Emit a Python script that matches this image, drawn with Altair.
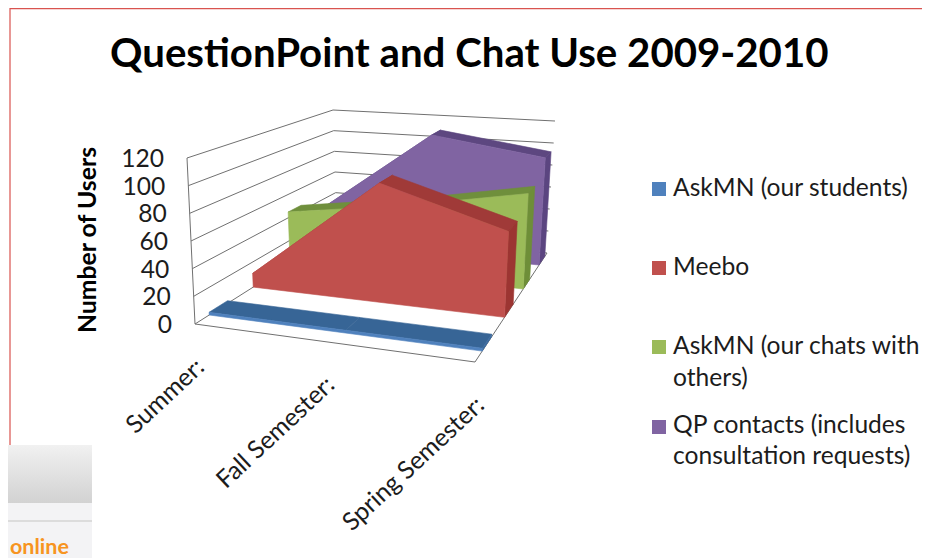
import altair as alt
import pandas as pd

# ---- data ----
categories = ["Summer:", "Fall Semester:", "Spring Semester:"]
series_names = ["AskMN (our students)", "Meebo", "AskMN (our chats with others)", "QP contacts (includes consultation requests)"]
askmn_students = [2, 2, 2]
meebo = [11, 93, 65]
askmn_chats = [45, 60, 78]
qp_contacts = [32, 108, 94]
y_ticks = [0, 20, 40, 60, 80, 100, 120]
legend_lines = [["AskMN (our students)"], ["Meebo"], ["AskMN (our chats with", "others)"], ["QP contacts (includes", "consultation requests)"]]

# ---- style / layout ----
FRONT = ["#4F81BD", "#C0504D", "#9BBB59", "#8064A2"]
TOP = ["#376596", "#A03A38", "#6F8F3C", "#5D4780"]
SIDE = ["#3A6A9F", "#9C3532", "#6E8E38", "#5B4580"]
BANDS = [(0.10, 0.23), (0.41, 0.53), (0.67, 0.76), (0.89, 0.97)]
FONT = "Lato"
GRID = "#707070"
W, H = 914, 550

# 3-D frame of the plot: (u=category, w=depth, v=value share) corners on the page
C = {
    (0, 0, 0): (195, 324), (0, 0, 1): (187, 158),
    (0, 1, 0): (337, 234), (0, 1, 1): (333, 110),
    (1, 0, 0): (475, 362), (1, 0, 1): (482, 185),
    (1, 1, 0): (547, 253), (1, 1, 1): (555, 121),
}


def project(u, w, value):
    v = value / 120
    px = py = 0.0
    for (a, b, c), (x, y) in C.items():
        f = (u if a else 1 - u) * (w if b else 1 - w) * (v if c else 1 - v)
        px += f * x
        py += f * y
    return px, py


x_enc = alt.X("x:Q", scale=alt.Scale(domain=[8, 8 + W]), axis=None)
y_enc = alt.Y("y:Q", scale=alt.Scale(domain=[8 + H, 8]), axis=None)


def poly(points, fill):
    df = pd.DataFrame([{"x": p[0], "y": p[1], "i": i} for i, p in enumerate(points)])
    return alt.Chart(df).mark_line(fill=fill, stroke=fill, strokeWidth=0.6, interpolate="linear-closed", clip=False).encode(
        x=x_enc, y=y_enc, order="i:Q")


def path(points, color=GRID, width=1):
    df = pd.DataFrame([{"x": p[0], "y": p[1], "i": i} for i, p in enumerate(points)])
    return alt.Chart(df).mark_line(stroke=color, strokeWidth=width).encode(x=x_enc, y=y_enc, order="i:Q")


def text(px, py, s, size, color="#1c1c1c", bold=False, align="left", angle=0):
    df = pd.DataFrame([{"x": px, "y": py, "t": s}])
    return alt.Chart(df).mark_text(font=FONT, fontSize=size, color=color, fontWeight="bold" if bold else "normal",
                                   align=align, baseline="middle", angle=angle).encode(x=x_enc, y=y_enc, text="t:N")


def rect(x0, y0, x1, y1, fill):
    return alt.Chart(pd.DataFrame([{"a": 0}])).mark_rect(fill=fill).encode(
        x=alt.value(x0 - 8), x2=alt.value(x1 - 8), y=alt.value(y0 - 8), y2=alt.value(y1 - 8))


layers = []

# page decoration: frame of the source screenshot
layers.append(path([(10, 445), (10, 8.6), (922, 8.6)], color="#d9534f", width=1.2))

# walls
for t in y_ticks:
    layers.append(path([project(0, 0, t), project(0, 1, t), project(1, 1, t)]))
layers.append(path([project(0, 0, 0), project(0, 0, 120)]))
layers.append(path([project(0, 0, 0), project(1, 0, 0), project(1, 1, 0)]))

# series, back to front
all_series = [askmn_students, meebo, askmn_chats, qp_contacts]
us = [0, 0.5, 1]
for k in [3, 2, 1, 0]:
    vals = all_series[k]
    wf, wb = BANDS[k]
    for j in range(2):
        layers.append(poly([project(us[j], wf, vals[j]), project(us[j + 1], wf, vals[j + 1]),
                            project(us[j + 1], wb, vals[j + 1]), project(us[j], wb, vals[j])], TOP[k]))
    layers.append(poly([project(1, wf, 0), project(1, wf, vals[2]), project(1, wb, vals[2]), project(1, wb, 0)], SIDE[k]))
    front = [project(u, wf, v) for u, v in zip(us, vals)] + [project(1, wf, 0), project(0, wf, 0)]
    layers.append(poly(front, FRONT[k]))

# value axis labels
for t in y_ticks:
    px, py = project(0, 0, t)
    layers.append(text(px - 23, py + 2, str(t), 24.6, align="right"))
layers.append(text(89, 240, "Number of Users", 24.8, color="#000000", bold=True, angle=270, align="center"))

# category labels (perspective pulls the middle label slightly toward the left)
label_u = [0, 0.465, 1]
for c, u in zip(categories, label_u):
    px, py = project(u, 0, 0)
    layers.append(text(px + 6, py + 40, c, 24.8, align="right", angle=317))

# title
layers.append(text(110, 55, "QuestionPoint and Chat Use 2009-2010", 40.2, color="#000000", bold=True))

# legend
swatch_y = [189, 268, 347, 427]
text_y = [[189], [268], [347, 379], [426, 457]]
for k in range(4):
    layers.append(rect(652, swatch_y[k] - 7, 666, swatch_y[k] + 7, FRONT[k]))
    for s, ty in zip(legend_lines[k], text_y[k]):
        layers.append(text(673, ty, s, 24.6))

# corner of a browser panel in the source screenshot
layers.append(rect(8, 445, 92, 558, "#f3f3f5"))
layers.append(rect(8, 445, 92, 503, alt.Gradient(gradient="linear", x1=0, y1=0, x2=0, y2=1,
                                                 stops=[alt.GradientStop(color="#f1f1f1", offset=0),
                                                        alt.GradientStop(color="#d2d2d2", offset=1)])))
layers.append(rect(8, 520, 92, 522, "#dcdcdc"))
layers.append(text(10, 548, "online", 21.5, color="#F79420", bold=True))

chart = alt.layer(*layers).properties(width=W, height=H, padding=0,
                                      autosize=alt.AutoSizeParams(type="none")).configure_view(stroke=None)
chart.save("out.html", embed_options={"renderer": "svg", "actions": False})
